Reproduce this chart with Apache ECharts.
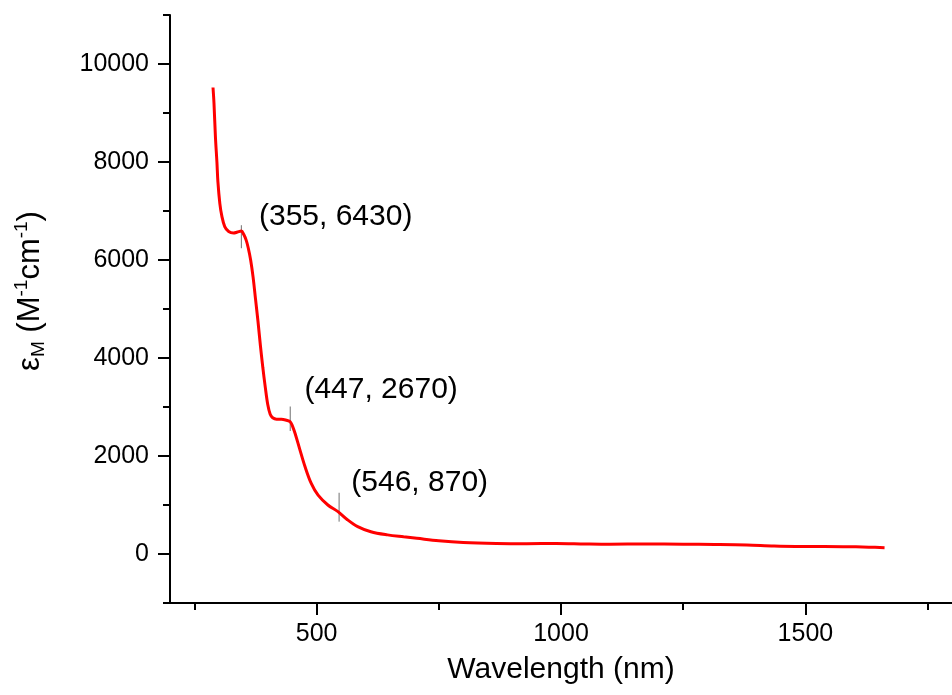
<!DOCTYPE html>
<html>
<head>
<meta charset="utf-8">
<script src="https://cdn.jsdelivr.net/npm/echarts@6/dist/echarts.min.js"></script>
<style>
html,body{margin:0;padding:0;background:#fff;}
#chart{width:952px;height:695px;}
</style>
</head>
<body>
<div id="chart"></div>
<script>
// ---- data ----
const wavelength = [288, 290, 293, 296, 298, 302, 306, 312, 320, 330, 338, 346, 351, 356, 360, 365, 370, 375, 380, 385, 390, 395, 400, 405, 410, 418, 428, 438, 446, 451, 456, 466, 476, 489, 503, 523, 543, 563, 584, 611, 645, 678, 705, 750, 800, 868, 930, 990, 1050, 1100, 1172, 1250, 1314, 1380, 1436, 1500, 1577, 1630, 1662];
const epsilon    = [9520, 9200, 8500, 8000, 7600, 7150, 6900, 6680, 6580, 6550, 6570, 6590, 6520, 6400, 6250, 6000, 5650, 5200, 4750, 4250, 3800, 3400, 3050, 2850, 2780, 2750, 2750, 2730, 2700, 2600, 2460, 2120, 1790, 1440, 1200, 1000, 870, 700, 560, 455, 390, 350, 320, 270, 235, 215, 210, 215, 205, 200, 205, 200, 195, 185, 165, 155, 150, 140, 130];

const xMajorTicks = [500, 1000, 1500];
const xMinorTicks = [250, 750, 1250, 1750];
const yMajorTicks = [0, 2000, 4000, 6000, 8000, 10000];
const yMinorTicks = [-1000, 1000, 3000, 5000, 7000, 9000, 11000];

const peakLabels = ['(355, 6430)', '(447, 2670)', '(546, 870)'];
const peakX      = [346, 446, 546];
const peakLow    = [6240, 2510, 660];
const peakHigh   = [6710, 3010, 1250];
const labelX     = [382, 475, 571];
const labelY     = [6890, 3350, 1450];

// ---- chart ----
const FONT = '"Liberation Sans", Arial, sans-serif';
const chart = echarts.init(document.getElementById('chart'), null, {renderer: 'canvas'});

const curve = wavelength.map((w, i) => [w, epsilon[i]]);
const peaks = peakX.map((x, i) => [x, peakLow[i], peakHigh[i], labelX[i], labelY[i], i]);
const plain = v => String(v);

const baseX = {
  type: 'value', min: 200, max: 1800, position: 'bottom', gridIndex: 0,
  splitLine: {show: false}
};
const baseY = {
  type: 'value', min: -1000, max: 11000, position: 'left', gridIndex: 0,
  splitLine: {show: false}
};

chart.setOption({
  animation: false,
  backgroundColor: '#fff',
  grid: {left: 170, right: -8, top: 15, bottom: 92, containLabel: false},
  xAxis: [
    Object.assign({}, baseX, {
      axisLine: {show: true, onZero: false, lineStyle: {color: '#000', width: 2}},
      axisTick: {show: true, inside: false, length: 12, customValues: xMajorTicks, lineStyle: {color: '#000', width: 2}},
      axisLabel: {show: true, customValues: xMajorTicks, formatter: plain, margin: 19, color: '#000', fontSize: 25, fontFamily: FONT},
      name: 'Wavelength (nm)', nameLocation: 'middle', nameGap: 52,
      nameTextStyle: {color: '#000', fontSize: 30, fontFamily: FONT}
    }),
    Object.assign({}, baseX, {
      axisLine: {show: false, onZero: false},
      axisTick: {show: true, inside: false, length: 7, customValues: xMinorTicks, lineStyle: {color: '#000', width: 2}},
      axisLabel: {show: false}
    })
  ],
  yAxis: [
    Object.assign({}, baseY, {
      axisLine: {show: true, onZero: false, lineStyle: {color: '#000', width: 2}},
      axisTick: {show: true, inside: false, length: 12, customValues: yMajorTicks, lineStyle: {color: '#000', width: 2}},
      axisLabel: {show: true, customValues: yMajorTicks, formatter: plain, margin: 21, color: '#000', fontSize: 25, fontFamily: FONT}
    }),
    Object.assign({}, baseY, {
      axisLine: {show: false, onZero: false},
      axisTick: {show: true, inside: false, length: 7, customValues: yMinorTicks, lineStyle: {color: '#000', width: 2}},
      axisLabel: {show: false}
    })
  ],
  graphic: [{
    type: 'text', x: 30, y: 291, rotation: Math.PI / 2,
    style: {
      text: '{m|ε}{s|M}{m| (M}{p|-1}{m|cm}{p|-1}{m|)}',
      align: 'center', verticalAlign: 'middle',
      rich: {
        m: {fontSize: 31, fontFamily: FONT, fill: '#000', lineHeight: 36, verticalAlign: 'middle'},
        s: {fontSize: 19, fontFamily: FONT, fill: '#000', lineHeight: 19, verticalAlign: 'bottom'},
        p: {fontSize: 19, fontFamily: FONT, fill: '#000', lineHeight: 19, verticalAlign: 'top'}
      }
    }
  }],
  series: [
    {
      type: 'line', xAxisIndex: 0, yAxisIndex: 0,
      data: curve, showSymbol: false, smooth: 0.35,
      lineStyle: {color: '#ff0000', width: 3}
    },
    {
      type: 'custom', xAxisIndex: 0, yAxisIndex: 0,
      data: peaks,
      renderItem: function (params, api) {
        const p1 = api.coord([api.value(0), api.value(1)]);
        const p2 = api.coord([api.value(0), api.value(2)]);
        const pl = api.coord([api.value(3), api.value(4)]);
        const i = api.value(5);
        return {
          type: 'group',
          children: [
            {type: 'line', shape: {x1: p1[0], y1: p1[1], x2: p2[0], y2: p2[1]},
             style: {stroke: '#707070', lineWidth: 1}},
            {type: 'text', x: pl[0], y: pl[1],
             style: {text: peakLabels[i], fill: '#000', font: '30px ' + FONT, align: 'left', verticalAlign: 'middle'}}
          ]
        };
      }
    }
  ]
});
</script>
</body>
</html>
